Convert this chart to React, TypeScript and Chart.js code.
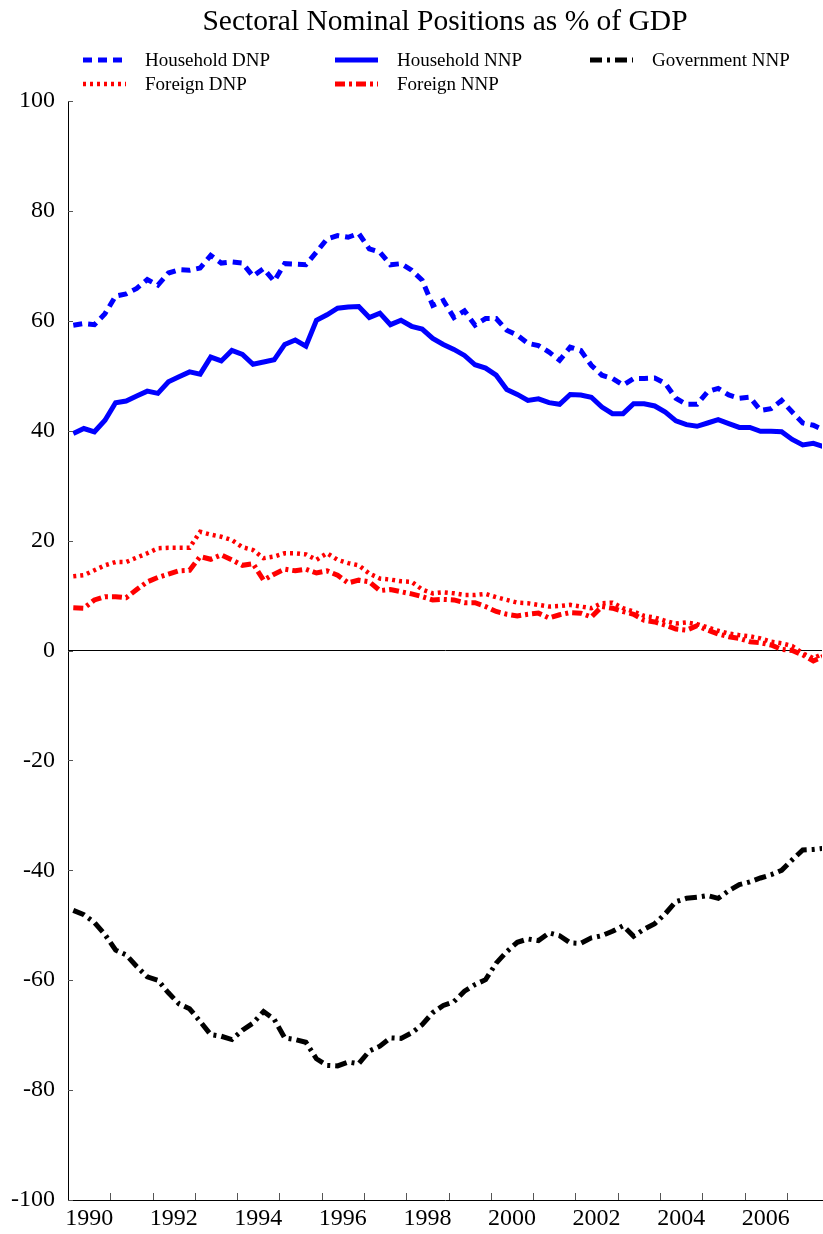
import React, { useEffect, useRef } from "react";
import { Chart, registerables } from "chart.js";

Chart.register(...registerables);

// ---- Data (quarterly, 1990Q1 .. 2007Q4, % of GDP) ----
const START_YEAR = 1990;
const X_MAX = 2007.83;

const HOUSEHOLD_DNP = [
  59.2, 59.5, 59.3, 61.3, 64.5, 64.9, 65.9, 67.5, 66.5, 68.7, 69.3, 69.2,
  69.6, 71.9, 70.5, 70.7, 70.5, 68.1, 69.5, 67.2, 70.4, 70.3, 70.2, 72.5,
  74.9, 75.5, 75.2, 75.9, 73.1, 72.5, 70.2, 70.4, 69.2, 67.4, 62.8, 63.7,
  60.6, 61.8, 59.2, 60.4, 60.4, 58.3, 57.4, 55.9, 55.5, 54.3, 52.8, 55.2,
  54.6, 51.9, 50.1, 49.5, 48.3, 49.5, 49.5, 49.6, 48.6, 45.9, 44.8, 44.8,
  47.1, 47.7, 46.5, 45.9, 46.1, 43.7, 44.0, 45.5, 43.4, 41.4, 41.0, 40.1,
];

const HOUSEHOLD_NNP = [
  39.5, 40.4, 39.8, 41.9, 45.1, 45.4, 46.3, 47.2, 46.8, 48.9, 49.8, 50.7,
  50.3, 53.4, 52.7, 54.6, 53.9, 52.1, 52.5, 52.9, 55.7, 56.5, 55.4, 60.1,
  61.1, 62.3, 62.5, 62.6, 60.6, 61.4, 59.3, 60.1, 59.0, 58.5, 56.8, 55.7,
  54.8, 53.7, 52.0, 51.4, 50.1, 47.5, 46.6, 45.5, 45.8, 45.1, 44.8, 46.6,
  46.5, 46.1, 44.3, 43.1, 43.1, 44.9, 44.9, 44.5, 43.4, 41.8, 41.1, 40.8,
  41.4, 42.0, 41.3, 40.6, 40.6, 39.9, 39.9, 39.8, 38.4, 37.4, 37.7, 37.1,
];

const FOREIGN_DNP = [
  13.5, 13.7, 14.6, 15.5, 16.1, 16.1, 16.9, 17.7, 18.6, 18.7, 18.7, 18.7,
  21.6, 21.1, 20.7, 20.1, 18.8, 18.3, 16.8, 17.1, 17.7, 17.7, 17.5, 16.5,
  17.7, 16.5, 15.9, 15.5, 14.0, 13.1, 12.9, 12.6, 12.5, 11.1, 10.4, 10.6,
  10.4, 10.1, 10.1, 10.3, 9.7, 9.2, 8.7, 8.6, 8.3, 8.0, 8.1, 8.3,
  8.0, 7.7, 8.6, 8.7, 7.7, 7.1, 6.3, 6.0, 5.4, 4.9, 5.1, 4.8,
  4.2, 3.6, 3.1, 2.8, 2.6, 2.2, 1.6, 1.3, 0.8, -0.5, -1.4, -0.5,
];

const FOREIGN_NNP = [
  7.8, 7.7, 9.2, 9.8, 9.8, 9.6, 11.1, 12.5, 13.3, 13.9, 14.5, 14.6,
  17.1, 16.6, 17.4, 16.5, 15.5, 15.8, 12.8, 13.9, 14.8, 14.5, 14.8, 14.1,
  14.5, 13.7, 12.3, 12.8, 12.5, 10.9, 11.1, 10.7, 10.3, 9.8, 9.2, 9.3,
  9.2, 8.7, 8.7, 8.0, 7.1, 6.6, 6.3, 6.6, 6.8, 5.9, 6.5, 6.9,
  6.8, 6.1, 8.0, 7.7, 7.1, 6.6, 5.5, 5.2, 4.6, 3.9, 3.7, 4.5,
  3.7, 3.0, 2.5, 2.2, 1.6, 1.4, 1.0, 0.2, 0.0, -0.8, -1.9, -1.0,
];

const GOVERNMENT_NNP = [
  -47.3, -48.1, -49.5, -51.7, -54.5, -55.4, -57.5, -59.4, -60.0, -62.3, -64.3, -65.2,
  -67.5, -69.9, -70.2, -70.8, -69.1, -67.8, -65.7, -67.1, -70.5, -70.8, -71.3, -74.3,
  -75.5, -75.6, -74.9, -75.2, -72.9, -72.0, -70.5, -70.6, -69.6, -68.1, -65.9, -64.6,
  -63.9, -62.0, -60.8, -59.9, -56.9, -54.8, -53.1, -52.5, -52.8, -51.4, -51.9, -53.2,
  -53.3, -52.3, -51.9, -51.1, -50.1, -52.0, -50.7, -49.7, -47.9, -45.7, -45.1, -44.9,
  -44.6, -45.1, -43.7, -42.6, -42.1, -41.4, -40.8, -40.0, -38.1, -36.3, -36.2, -36.0,
];

const X_TICK_LABELS = ["1990", "1992", "1994", "1996", "1998", "2000", "2002", "2004", "2006"];
const YEAR_MARKS = [1991, 1992, 1993, 1994, 1995, 1996, 1997, 1998, 1999, 2000, 2001, 2002, 2003, 2004, 2005, 2006, 2007];
const Y_TICKS = [-100, -80, -60, -40, -20, 0, 20, 40, 60, 80, 100];

const TITLE = "Sectoral Nominal Positions as % of GDP";
const SERIF = "'Liberation Serif', 'Times New Roman', Times, serif";

// quarter midpoints
const toPoints = (vals: number[]) =>
  vals.map((v, i) => ({ x: START_YEAR + (i + 0.5) / 4, y: v }));

// legend grid: [datasetIndex, column, row]
const LEGEND_LAYOUT: [number, number, number][] = [
  [0, 0, 0],
  [1, 1, 0],
  [4, 2, 0],
  [2, 0, 1],
  [3, 1, 1],
];

const legendPlugin = {
  id: "gridLegend",
  afterDraw(chart: any) {
    const ctx = chart.ctx;
    const colX = [83, 335, 590];
    const rowY = [60, 84];
    const sampleLen = 43;
    const textGap = 19;
    ctx.save();
    for (const [di, col, row] of LEGEND_LAYOUT) {
      const ds = chart.data.datasets[di];
      const x0 = colX[col];
      const y = rowY[row];
      ctx.beginPath();
      ctx.strokeStyle = ds.borderColor;
      ctx.lineWidth = ds.borderWidth;
      ctx.lineCap = "butt";
      ctx.setLineDash(ds.borderDash || []);
      ctx.moveTo(x0, y);
      ctx.lineTo(x0 + sampleLen, y);
      ctx.stroke();
      ctx.setLineDash([]);
      ctx.fillStyle = "#000";
      ctx.font = `19px ${SERIF}`;
      ctx.textBaseline = "middle";
      ctx.textAlign = "left";
      ctx.fillText(ds.label, x0 + sampleLen + textGap, y + 1);
    }
    ctx.restore();
  },
};

const inwardTicksPlugin = {
  id: "inwardTicks",
  afterDatasetsDraw(chart: any) {
    const { ctx, chartArea, scales } = chart;
    ctx.save();
    ctx.strokeStyle = "#555";
    ctx.lineWidth = 1;
    ctx.beginPath();
    for (const yr of YEAR_MARKS) {
      const px = Math.round(scales.x.getPixelForValue(yr)) + 0.5;
      if (px > chartArea.right) continue;
      ctx.moveTo(px, chartArea.bottom);
      ctx.lineTo(px, chartArea.bottom - 7);
    }
    for (const v of Y_TICKS) {
      const py = Math.round(scales.y.getPixelForValue(v)) + 0.5;
      ctx.moveTo(chartArea.left, py);
      ctx.lineTo(chartArea.left + 5, py);
    }
    ctx.stroke();
    ctx.restore();
  },
};

export default function App() {
  const ref = useRef<HTMLCanvasElement | null>(null);

  useEffect(() => {
    if (!ref.current) return;
    const chart = new Chart(ref.current, {
      type: "line",
      data: {
        datasets: [
          {
            label: "Household DNP",
            data: toPoints(HOUSEHOLD_DNP),
            borderColor: "#0000ff",
            borderWidth: 5,
            borderDash: [9, 6],
          },
          {
            label: "Household NNP",
            data: toPoints(HOUSEHOLD_NNP),
            borderColor: "#0000ff",
            borderWidth: 5,
            borderDash: [],
          },
          {
            label: "Foreign DNP",
            data: toPoints(FOREIGN_DNP),
            borderColor: "#ff0000",
            borderWidth: 4.5,
            borderDash: [3, 4],
          },
          {
            label: "Foreign NNP",
            data: toPoints(FOREIGN_NNP),
            borderColor: "#ff0000",
            borderWidth: 5,
            borderDash: [10, 4, 3, 4],
          },
          {
            label: "Government NNP",
            data: toPoints(GOVERNMENT_NNP),
            borderColor: "#000000",
            borderWidth: 5,
            borderDash: [12, 5, 3, 5],
          },
        ] as any,
      },
      options: {
        animation: false,
        responsive: false,
        events: [],
        layout: { padding: { left: 0, right: 1, top: 0, bottom: 0 } },
        elements: {
          point: { radius: 0 },
          line: { tension: 0, borderCapStyle: "butt", borderJoinStyle: "miter", fill: false },
        },
        plugins: {
          legend: { display: false },
          tooltip: { enabled: false },
          title: {
            display: true,
            text: TITLE,
            fullSize: false,
            color: "#000",
            font: { family: SERIF, size: 29.5, weight: "normal", lineHeight: 1.2 },
            padding: { top: 5, bottom: 101 - 5 - 29.5 * 1.2 },
          },
        },
        scales: {
          x: {
            type: "linear",
            min: START_YEAR,
            max: X_MAX,
            afterBuildTicks: (scale: any) => {
              scale.ticks = X_TICK_LABELS.map((l) => ({ value: Number(l) + 0.5 }));
            },
            afterFit: (scale: any) => {
              scale.height = 34;
            },
            grid: { display: false, drawTicks: false },
            border: { display: true, color: "#000", width: 1 },
            ticks: {
              autoSkip: false,
              maxRotation: 0,
              padding: 4,
              color: "#000",
              font: { family: SERIF, size: 24 },
              callback: (_v: any, i: number) => X_TICK_LABELS[i],
            },
          },
          y: {
            type: "linear",
            min: -100,
            max: 100,
            afterBuildTicks: (scale: any) => {
              scale.ticks = Y_TICKS.map((v) => ({ value: v }));
            },
            afterFit: (scale: any) => {
              scale.width = 68;
            },
            grid: {
              drawTicks: false,
              drawOnChartArea: true,
              color: (c: any) => (c.tick && c.tick.value === 0 ? "#000" : "rgba(0,0,0,0)"),
              lineWidth: 1,
            },
            border: { display: true, color: "#000", width: 1 },
            ticks: {
              padding: 13,
              color: "#000",
              font: { family: SERIF, size: 24 },
              callback: (v: any) => String(v),
            },
          },
        },
      } as any,
      plugins: [legendPlugin, inwardTicksPlugin],
    });
    return () => chart.destroy();
  }, []);

  return (
    <div style={{ position: "absolute", left: 0, top: 0, width: 823, height: 1234, background: "#fff" }}>
      <canvas ref={ref} width={823} height={1234} style={{ width: 823, height: 1234, display: "block" }} />
    </div>
  );
}
